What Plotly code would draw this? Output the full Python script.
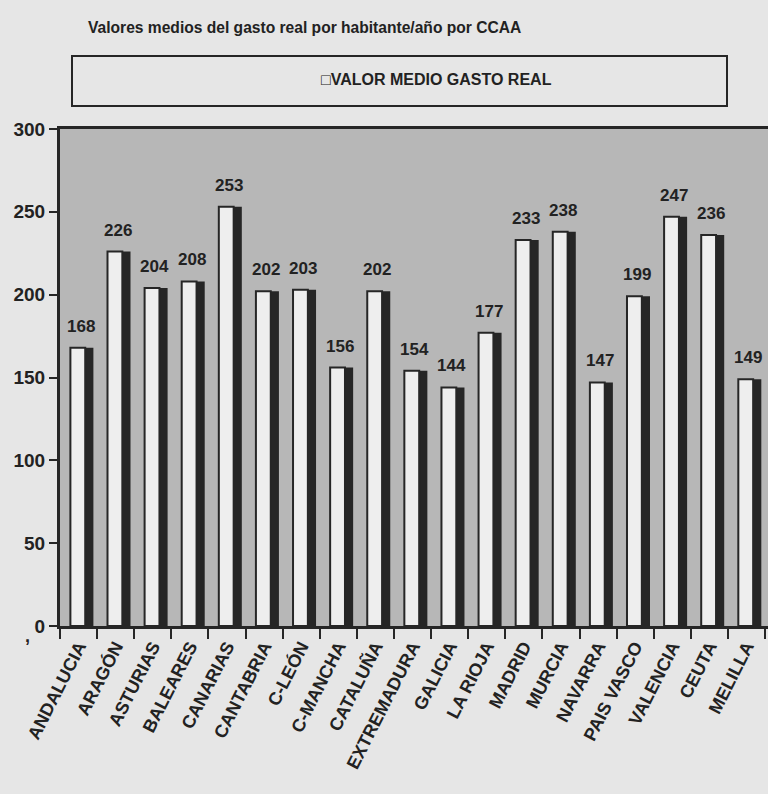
import plotly.graph_objects as go

# Comunidades autónomas and average real spending per inhabitant/year
regiones = ["ANDALUCIA", "ARAGÓN", "ASTURIAS", "BALEARES", "CANARIAS", "CANTABRIA",
            "C-LEÓN", "C-MANCHA", "CATALUÑA", "EXTREMADURA", "GALICIA", "LA RIOJA",
            "MADRID", "MURCIA", "NAVARRA", "PAIS VASCO", "VALENCIA", "CEUTA", "MELILLA"]
gasto_medio = [168, 226, 204, 208, 253, 202, 203, 156, 202, 154, 144, 177,
               233, 238, 147, 199, 247, 236, 149]
y_ticks = [0, 50, 100, 150, 200, 250, 300]

DARK = "#262626"
FACE = "#eeeeee"
INK = "#222222"
FONT = "Arial"

fig = go.Figure()

# dark body of each bar (gives the 3D side)
fig.add_trace(go.Bar(
    x=regiones, y=gasto_medio,
    offset=-0.22, width=0.62,
    marker=dict(color=DARK, line=dict(width=0)),
    showlegend=False, hoverinfo="skip",
))
# light front face
fig.add_trace(go.Bar(
    x=regiones, y=gasto_medio,
    offset=-0.22, width=0.40,
    marker=dict(color=FACE, line=dict(color=DARK, width=2)),
    name="VALOR MEDIO GASTO REAL", showlegend=False,
))

# value labels floating above each bar
value_labels = [
    dict(x=r, y=v, text=f"<b>{v}</b>", xref="x", yref="y",
         xanchor="center", yanchor="bottom", yshift=10, xshift=2,
         showarrow=False, font=dict(family=FONT, size=17, color=INK))
    for r, v in zip(regiones, gasto_medio)
]

fig.update_layout(
    width=768, height=794,
    margin=dict(l=60, r=0, t=129, b=168),
    paper_bgcolor="#e6e6e6",
    plot_bgcolor="#b7b7b7",
    barmode="overlay",
    font=dict(family=FONT, color=INK),
    xaxis=dict(
        type="category", range=[-0.5, 18.58],
        tickson="boundaries", ticks="outside", ticklen=10, tickwidth=2, tickcolor=DARK,
        showline=True, linecolor=DARK, linewidth=3, mirror=True,
        tickangle=-63, tickfont=dict(family=FONT, size=18, color=INK, weight="bold"),
        showgrid=False,
    ),
    yaxis=dict(
        range=[0, 300], tickvals=y_ticks,
        ticks="outside", ticklen=8, tickwidth=2, tickcolor=DARK,
        showline=True, linecolor=DARK, linewidth=3,
        tickfont=dict(family=FONT, size=19, color=INK, weight="bold"),
        showgrid=False, zeroline=False,
    ),
    annotations=value_labels + [
        dict(text="<b>Valores medios del gasto real por habitante/año por CCAA</b>",
             xref="paper", yref="paper", x=(304 - 60) / 708, y=(626 - 27) / 497,
             xanchor="center", yanchor="middle", showarrow=False,
             font=dict(family=FONT, size=15.6, color=INK)),
        dict(text="<b>□VALOR MEDIO GASTO REAL</b>",
             xref="paper", yref="paper", x=(436 - 60) / 708, y=(626 - 80) / 497,
             xanchor="center", yanchor="middle", showarrow=False,
             font=dict(family=FONT, size=16, color=INK)),
        dict(text="<b>,</b>", xref="paper", yref="paper",
             x=(27 - 60) / 708, y=(626 - 636) / 497,
             xanchor="center", yanchor="middle", showarrow=False,
             font=dict(family=FONT, size=18, color=INK)),
    ],
    shapes=[
        # legend frame
        dict(type="rect", xref="paper", yref="paper",
             x0=(72 - 60) / 708, x1=(727 - 60) / 708,
             y0=(626 - 106) / 497, y1=(626 - 56) / 497,
             line=dict(color=DARK, width=2), fillcolor="rgba(0,0,0,0)"),
    ],
)

fig.write_html("out.html")
